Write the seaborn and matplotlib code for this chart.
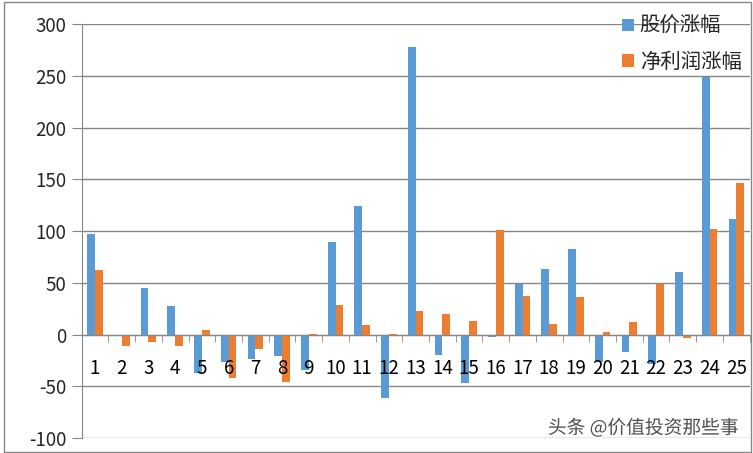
import numpy as np
import pandas as pd
import matplotlib
matplotlib.use("Agg")
import matplotlib.pyplot as plt
import matplotlib.patheffects as pe
from matplotlib.patches import Patch
import seaborn as sns

# 数据
categories = [str(i) for i in range(1, 26)]
stock_change = [97, -1, 45, 28, -37, -27, -24, -21, -34, 89, 124, -61, 278,
                -20, -47, -2, 49, 63, 83, -27, -17, -28, 60, 249, 112]
profit_change = [62, -11, -7, -11, 4, -42, -14, -46, 1, 29, 9, 1, 23,
                 20, 13, 101, 37, 10, 36, 2, 12, 49, -3, 102, 146]
series_names = ['股价涨幅', '净利润涨幅']
colors = ['#5B9BD5', '#ED7D31']

df = pd.DataFrame({
    'cat': categories * 2,
    'value': stock_change + profit_change,
    'series': [series_names[0]] * 25 + [series_names[1]] * 25,
})

sns.set_style('white')
plt.rcParams['font.family'] = ['Noto Sans CJK SC', 'DejaVu Sans']
plt.rcParams['axes.unicode_minus'] = False

fig = plt.figure(figsize=(7.53, 4.53), dpi=100)
ax = fig.add_axes([0.1085, 0.033, 0.887, 0.914])

sns.barplot(data=df, x='cat', y='value', hue='series', palette=colors,
            saturation=1, width=0.58, linewidth=0, ax=ax, legend=False,
            zorder=3)

grid_col = '#868686'
ax.set_ylim(-100, 300)
ax.set_xlim(-0.5, 24.5)
ax.set_yticks(np.arange(-100, 301, 50))
ax.yaxis.grid(True, color=grid_col, linewidth=1, zorder=0)
ax.set_axisbelow(True)

for s in ['top', 'right']:
    ax.spines[s].set_visible(False)
ax.spines['left'].set_color(grid_col)
ax.spines['bottom'].set_color(grid_col)
ax.spines['bottom'].set_position(('data', 0))
ax.spines['bottom'].set_zorder(4)

ax.tick_params(axis='y', which='major', length=7, color=grid_col,
               labelsize=13.5, pad=4, direction='out', left=True)
ax.tick_params(axis='x', which='major', length=0, labelbottom=False)
ax.set_xticks(np.arange(-0.5, 25, 1), minor=True)
ax.tick_params(axis='x', which='minor', length=5, color=grid_col,
               direction='out', bottom=True)
ax.set_xlabel('')
ax.set_ylabel('')

# 类别标签画在柱子上层
for i, c in enumerate(categories):
    ax.annotate(c, xy=(i, 0), xytext=(0, -24.5), textcoords='offset points',
                ha='center', va='center', fontsize=13.5, color='black',
                zorder=6, annotation_clip=False)

handles = [Patch(facecolor=c, edgecolor='none') for c in colors]
fig.legend(handles, series_names, loc='upper left',
           bbox_to_anchor=(0.802, 1.005), frameon=False, fontsize=14.7,
           handlelength=0.55, handleheight=0.55, handletextpad=0.3,
           labelspacing=0.72)

fig.text(0.981, 0.055, '头条 @价值投资那些事', ha='right', va='center',
         fontsize=13.5, color='#505050',
         path_effects=[pe.withStroke(linewidth=2.5, foreground='white')])

# 外边框
fig.patches.append(plt.Rectangle((0.005, 0.003), 0.992, 0.993,
                                 transform=fig.transFigure, fill=False,
                                 edgecolor=grid_col, linewidth=1))

fig.savefig('out.png', dpi=100)
